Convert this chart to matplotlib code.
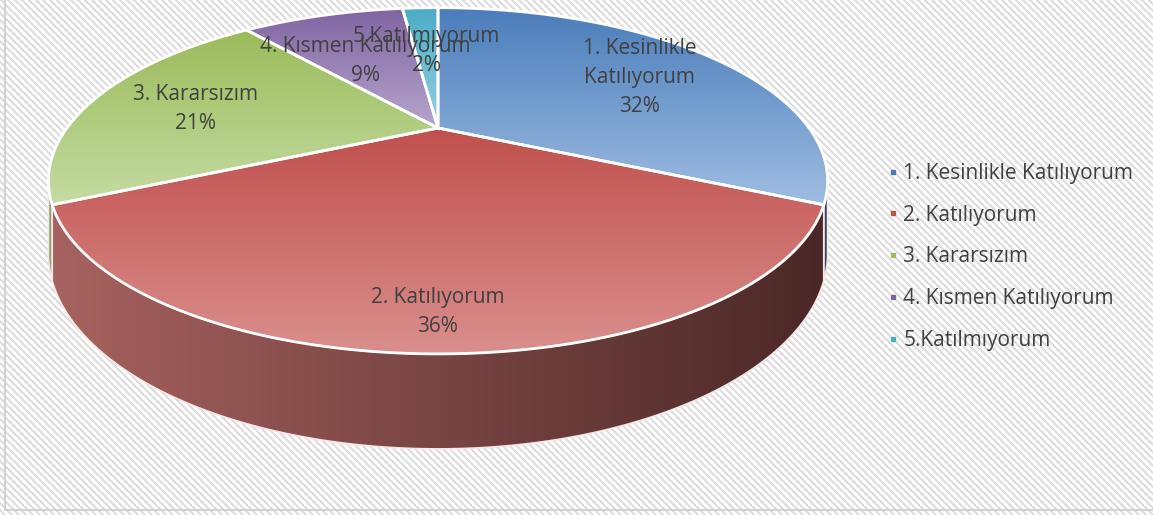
# 3D pie chart (Excel style) drawn by hand with matplotlib

import numpy as np
import matplotlib.pyplot as plt
from matplotlib.patches import Polygon, Rectangle
from matplotlib.lines import Line2D
from matplotlib.colors import LinearSegmentedColormap

plt.rcParams['font.family'] = ['Open Sans', 'DejaVu Sans']

# data
labels = ["1. Kesinlikle Katılıyorum", "2. Katılıyorum", "3. Kararsızım",
          "4. Kısmen Katılıyorum", "5.Katılmıyorum"]
slice_text = ["1. Kesinlikle\nKatılıyorum", "2. Katılıyorum", "3. Kararsızım",
              "4. Kısmen Katılıyorum", "5.Katılmıyorum"]
values = [32, 36, 21, 9, 2]

# colours: top surface gradient (top -> bottom), side gradient (left -> right)
top_dark = ["#4a7dbb", "#c0504d", "#9bbb59", "#8064a2", "#4bacc6"]
top_light = ["#9fbde2", "#da8f8d", "#c4dca3", "#b6a5cd", "#95d0e0"]
side_left = ["#5f7fa8", "#a7625f", "#8ea06a", "#76648f", "#5a9aac"]
side_right = ["#2c4466", "#4a2827", "#4d5c2c", "#3d2f52", "#2c5a66"]

# layout (pixels)
W, H = 1153, 515
cx, cy = 438, 128      # pie centre on the top face
A, B = 371, 157        # projected radii
k = 0.305              # perspective strength
depth = 66             # pie thickness
label_r = [0.72, 0.85, 0.70, 0.57, 0.61]
label_dy = 4

fig = plt.figure(figsize=(W / 100, H / 100), dpi=100)
ax = fig.add_axes([0, 0, 1, 1])

# striped background
yy, xx = np.mgrid[0:H, 0:W]
bg = np.where(((xx - yy) % 7) < 3, 0.87, 1.0)
ax.imshow(bg, cmap='gray', vmin=0, vmax=1, extent=(0, W, H, 0),
          interpolation='nearest', zorder=0)
ax.add_patch(Rectangle((5, -10), W, 520, fill=False, ec='#d2d2d2', lw=1.5, zorder=1))


def proj(theta, r=1.0):
    u = r * np.sin(theta)
    v = r * np.cos(theta)
    w = 1 + k * v
    return cx + A * u / w, cy - B * v / w, w


def gradient_fill(poly, c0, c1, vertical=True, ext=None):
    cmap = LinearSegmentedColormap.from_list('g', [c0, c1])
    g = np.linspace(0, 1, 256)
    img = g[:, None] if vertical else g[None, :]
    if ext is None:
        xy = poly.get_xy()
        ext = (xy[:, 0].min(), xy[:, 0].max(), xy[:, 1].max(), xy[:, 1].min())
    im = ax.imshow(img, cmap=cmap, extent=ext, aspect='auto',
                   interpolation='bilinear', zorder=poly.get_zorder() - 0.1)
    im.set_clip_path(poly)


edges = np.cumsum([0] + values) / sum(values) * 2 * np.pi
t_lo = np.arccos(-k)
t_hi = 2 * np.pi - t_lo

# side walls (front part only)
side_ext = (proj(t_hi)[0], proj(t_lo)[0], H, cy)
for i in range(len(values)):
    a0, a1 = max(edges[i], t_lo), min(edges[i + 1], t_hi)
    if a1 <= a0:
        continue
    t = np.linspace(a0, a1, 200)
    x, y, w = proj(t)
    yb = y + depth / w
    pts = np.column_stack([np.r_[x, x[::-1]], np.r_[y, yb[::-1]]])
    poly = Polygon(pts, closed=True, fc='none', ec='#f6e6e4', lw=1.2, zorder=2)
    ax.add_patch(poly)
    gradient_fill(poly, side_left[i], side_right[i], vertical=False, ext=side_ext)

# top faces
for i in range(len(values)):
    t = np.linspace(edges[i], edges[i + 1], 200)
    x, y, w = proj(t)
    pts = np.column_stack([np.r_[cx, x], np.r_[cy, y]])
    poly = Polygon(pts, closed=True, fc='none', ec='white', lw=2, zorder=4)
    ax.add_patch(poly)
    gradient_fill(poly, top_dark[i], top_light[i])

# slice labels
for i in range(len(values)):
    mid = (edges[i] + edges[i + 1]) / 2
    x, y, _ = proj(mid, label_r[i])
    ax.text(x, y + label_dy, f"{slice_text[i]}\n{values[i]}%", ha='center', va='center',
            fontsize=15, color='#404040', linespacing=1.5, zorder=6)

ax.set_xlim(0, W)
ax.set_ylim(H, 0)
ax.set_aspect('auto')
ax.axis('off')

handles = [Line2D([], [], marker='s', ls='', color=c, markersize=3.5) for c in top_dark]
fig.legend(handles, labels, loc='center left', bbox_to_anchor=(868 / W, 1 - 257 / H),
           frameon=False, fontsize=15, labelcolor='#404040', labelspacing=1.0,
           handlelength=0.6, handletextpad=0.2)

fig.savefig('out.png', dpi=100)
